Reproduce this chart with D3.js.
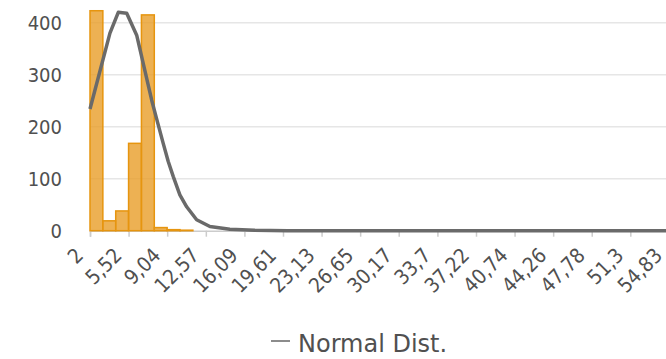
<!DOCTYPE html>
<html>
<head>
<meta charset="utf-8">
<script src="https://cdn.jsdelivr.net/npm/d3@7"></script>
<style>
  html, body { margin: 0; padding: 0; background: #fff; overflow: hidden; }
  svg { display: block; }
</style>
</head>
<body>
<svg id="chart" width="666" height="359"></svg>
<script>
// ---- data ----
const binStart = 2;
const binWidth = 1.17333;
const binCounts = [423, 19, 38, 168, 415, 6, 2, 1];

const curveX = [2, 3.82, 4.58, 5.35, 6.26, 7.63, 8.08, 8.68, 9.14, 9.6, 10.2, 10.82, 11.73, 12.94, 14.76, 17, 20, 58.35];
const curveY = [234, 380, 420, 418, 376, 251, 215, 168, 133, 104, 69, 46, 21, 8, 3, 1, 0, 0];

const xTickValues = [2, 5.52, 9.04, 12.57, 16.09, 19.61, 23.13, 26.65, 30.17, 33.7, 37.22, 40.74, 44.26, 47.78, 51.3, 54.83];
const xTickLabels = ["2", "5,52", "9,04", "12,57", "16,09", "19,61", "23,13", "26,65", "30,17", "33,7", "37,22", "40,74", "44,26", "47,78", "51,3", "54,83"];
const yTickValues = [0, 100, 200, 300, 400];
const legendLabel = "Normal Dist.";

// ---- layout ----
const svg = d3.select("#chart");
const axisFont = "'DejaVu Sans Condensed', 'DejaVu Sans', sans-serif";
const legendFont = "'DejaVu Sans', sans-serif";
const textColor = "#505050";

const x = d3.scaleLinear().domain([2, 54.83]).range([90, 669.0]);
const y = d3.scaleLinear().domain([0, 400]).range([230.7, 22.7]);

// gridlines
svg.append("g").selectAll("line")
  .data(yTickValues.filter(v => v > 0))
  .join("line")
  .attr("x1", x(2)).attr("x2", 700)
  .attr("y1", d => y(d)).attr("y2", d => y(d))
  .attr("stroke", "#e6e6e6").attr("stroke-width", 1.5);

// x axis
const xAxis = d3.axisBottom(x).tickValues(xTickValues).tickSize(6).tickFormat((d, i) => xTickLabels[i]);
const gx = svg.append("g").attr("transform", `translate(0,${y(0)})`).call(xAxis);
gx.select(".domain").attr("stroke", "#ccc").attr("stroke-width", 1.5);
gx.selectAll(".tick line").attr("stroke", "#ccc").attr("stroke-width", 1.5);
gx.selectAll(".tick text")
  .attr("font-family", axisFont).attr("font-size", 20.5).attr("fill", textColor)
  .attr("text-anchor", "end")
  .attr("x", 0).attr("y", 0).attr("dy", "0.35em")
  .attr("transform", "translate(-11,21) rotate(-45)");

// y axis labels
const yAxis = d3.axisLeft(y).tickValues(yTickValues).tickSize(0).tickPadding(0);
const gy = svg.append("g").attr("transform", "translate(62,0)").call(yAxis);
gy.select(".domain").remove();
gy.selectAll(".tick text")
  .attr("font-family", axisFont).attr("font-size", 20).attr("fill", textColor)
  .attr("dy", "0.36em").attr("x", 0);

// bars
const bins = binCounts.map((c, i) => ({ x0: binStart + i * binWidth, x1: binStart + (i + 1) * binWidth, c }));
svg.append("g").selectAll("rect")
  .data(bins)
  .join("rect")
  .attr("x", d => x(d.x0))
  .attr("width", d => x(d.x1) - x(d.x0))
  .attr("y", d => y(d.c))
  .attr("height", d => y(0) - y(d.c))
  .attr("fill", "rgba(232,158,40,0.8)")
  .attr("stroke", "#e6950f").attr("stroke-width", 1.5);

// normal curve
const pts = curveX.map((v, i) => [v, curveY[i]]);
svg.append("path")
  .datum(pts)
  .attr("d", d3.line().x(d => x(d[0])).y(d => y(d[1])))
  .attr("fill", "none").attr("stroke", "#6a6a6a").attr("stroke-width", 3.5)
  .attr("stroke-linejoin", "round");

// legend
const lg = svg.append("g");
lg.append("line").attr("x1", 271).attr("x2", 290).attr("y1", 341).attr("y2", 341)
  .attr("stroke", "#666").attr("stroke-width", 1.5);
lg.append("text").attr("x", 298).attr("y", 352)
  .attr("font-family", legendFont).attr("font-size", 24).attr("fill", textColor)
  .text(legendLabel);
</script>
</body>
</html>
